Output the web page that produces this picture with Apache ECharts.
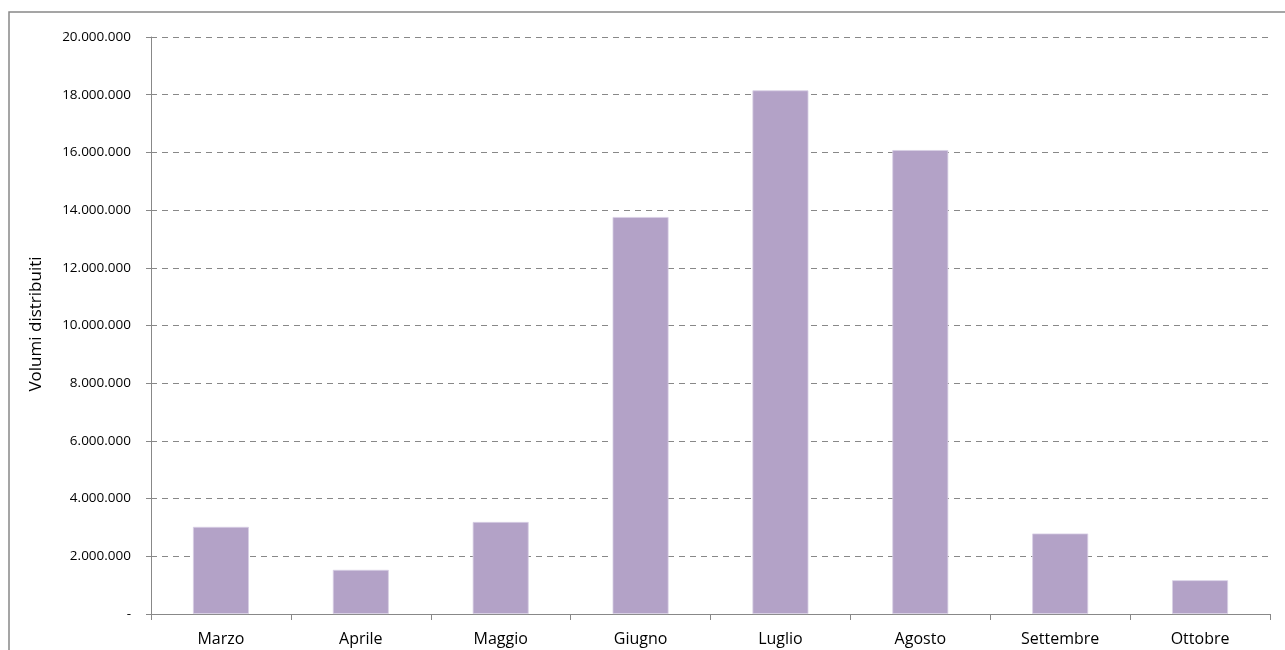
<!DOCTYPE html>
<html>
<head>
<meta charset="utf-8">
<script src="https://cdn.jsdelivr.net/npm/echarts@6/dist/echarts.min.js"></script>
<style>html,body{margin:0;padding:0;background:#fff;}#c{width:1285px;height:650px;}</style>
</head>
<body>
<div id="c"></div>
<script>
var categories = ['Marzo','Aprile','Maggio','Giugno','Luglio','Agosto','Settembre','Ottobre'];
var volumes = [3020000, 1530000, 3190000, 13760000, 18150000, 16080000, 2790000, 1170000];
var yAxisName = 'Volumi distribuiti';

function fmt(v){
  if (v === 0) return '-';
  return String(Math.round(v)).replace(/\B(?=(\d{3})+(?!\d))/g, '.');
}

var chart = echarts.init(document.getElementById('c'), null, {renderer:'canvas'});
chart.setOption({
  backgroundColor:'#fff',
  animation:false,
  textStyle:{fontFamily:'Open Sans'},
  graphic:[{
    type:'rect', silent:true, x:9, y:12,
    shape:{x:0,y:0,width:1300,height:700},
    style:{fill:'none', stroke:'#888', lineWidth:1.5}
  },{
    type:'text', silent:true, x:36, y:324, rotation:Math.PI/2,
    style:{text:yAxisName, fill:'#000', fontSize:17, fontFamily:'Open Sans', align:'center', verticalAlign:'middle'}
  }],
  grid:{left:151, right:15, top:37, bottom:36, containLabel:false},
  xAxis:{
    type:'category', data:categories,
    axisLine:{lineStyle:{color:'#888', width:1}},
    axisTick:{show:true, length:6, lineStyle:{color:'#888'}},
    axisLabel:{color:'#000', fontSize:16, margin:17, fontFamily:'Open Sans'}
  },
  yAxis:{
    type:'value', min:0, max:20000000, interval:2000000,
    axisLine:{show:true, lineStyle:{color:'#888', width:1}},
    axisTick:{show:true, length:5, lineStyle:{color:'#888'}},
    axisLabel:{color:'#000', fontSize:13.5, margin:20, fontFamily:'Open Sans', formatter:fmt},
    splitLine:{show:true, lineStyle:{color:'#888', type:[6,5], width:1}}
  },
  series:[{
    type:'bar', data:volumes, barCategoryGap:'60%',
    itemStyle:{color:'#b3a2c7', borderColor:'#d8cfe4', borderWidth:0.8}
  }]
});
</script>
</body>
</html>
